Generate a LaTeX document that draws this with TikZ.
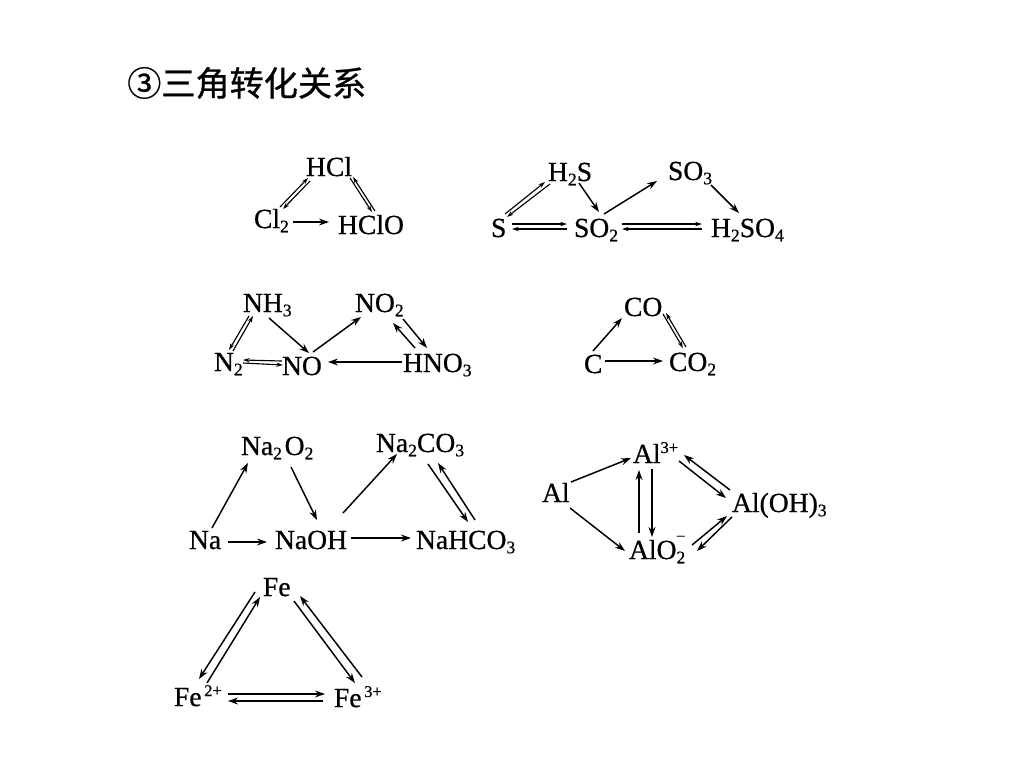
\documentclass[tikz,border=0pt]{standalone}
\usepackage{fontspec}
\usetikzlibrary{arrows.meta}
\setmainfont{Liberation Serif}
\newfontfamily\chemfont{Liberation Serif}[RawFeature={embolden=0.7}]
\newfontfamily\cjk{Noto Sans CJK SC}[RawFeature={embolden=0.8}]
\newcommand{\lowr}[1]{\raisebox{-3.2pt}{\fontsize{13.2}{14}\selectfont #1}}
\newcommand{\upr}[1]{\raisebox{7.5pt}{\fontsize{12.3}{13}\selectfont #1}}
% place a species: name, left x, baseline y, text
\newcommand{\chem}[4]{%
  \expandafter\def\csname nx@#1\endcsname{#2}%
  \expandafter\def\csname ny@#1\endcsname{#3}%
  \node[species] (#1) at (#2,#3) {#4};}
% connector between two named species, ends given as picture positions
\newcommand{\conn}[7][main]{%
  \pgfmathsetmacro{\dxa}{#3-\csname nx@#2\endcsname}%
  \pgfmathsetmacro{\dya}{#4-\csname ny@#2\endcsname}%
  \pgfmathsetmacro{\dxb}{#6-\csname nx@#5\endcsname}%
  \pgfmathsetmacro{\dyb}{#7-\csname ny@#5\endcsname}%
  \draw[#1] ([shift={(\dxa,\dya)}]#2.base west) -- ([shift={(\dxb,\dyb)}]#5.base west);}
\tikzset{
  species/.style={anchor=base west,inner sep=0pt,outer sep=0pt,font=\chemfont\fontsize{20.7}{21}\selectfont,text=black},
  main/.style={draw=black,line width=1.1pt,-{Stealth[length=7.5pt,width=5.2pt]}},
  thin/.style={draw=black,line width=0.85pt,-{Stealth[length=5pt,width=3.2pt]}},
}
\begin{document}
\begin{tikzpicture}[x=0.75pt,y=-0.75pt]
\useasboundingbox (0,0) rectangle (1024,768);
\fill[white] (0,0) rectangle (1024,768);
\node[anchor=west,inner sep=0pt,font=\cjk\fontsize{25.6}{26}\selectfont] (title) at (127,83) {③三角转化关系};
% chlorine
\chem{HCl}{306}{176}{HCl}
\chem{ClTwo}{254}{228}{Cl\lowr{2}}
\chem{HClO}{338}{234}{HClO}
\conn[thin]{ClTwo}{280}{207}{HCl}{308}{178}
\conn[thin]{HCl}{310}{181}{ClTwo}{283}{209}
\conn[thin]{HClO}{375}{211}{HCl}{353}{177}
\conn[thin]{HCl}{350}{178}{HClO}{372}{212}
\conn{ClTwo}{293}{222}{HClO}{329}{222}
% sulfur
\chem{HHS}{548}{181}{H\lowr{2}S}
\chem{S}{491}{237}{S}
\chem{SOTwo}{574}{237}{SO\lowr{2}}
\chem{SOThree}{668}{180}{SO\lowr{3}}
\chem{HHSOFour}{711}{237}{H\lowr{2}SO\lowr{4}}
\conn[thin]{S}{505}{214}{HHS}{545}{182}
\conn[thin]{HHS}{550}{184}{S}{507}{217}
\conn[thin]{S}{512}{224}{SOTwo}{567}{224}
\conn[thin]{SOTwo}{567}{229}{S}{512}{229}
\conn{HHS}{579}{183}{SOTwo}{599}{212}
\conn{SOTwo}{604}{214}{SOThree}{657}{181}
\conn{SOThree}{711}{185}{HHSOFour}{739}{213}
\conn[thin]{SOTwo}{622}{224}{HHSOFour}{702}{224}
\conn[thin]{HHSOFour}{702}{229}{SOTwo}{622}{229}
% nitrogen
\chem{NHThree}{243}{312}{NH\lowr{3}}
\chem{NOTwo}{355}{312}{NO\lowr{2}}
\chem{NTwo}{214}{371}{N\lowr{2}}
\chem{NO}{282}{375}{NO}
\chem{HNOThree}{403}{372}{HNO\lowr{3}}
\conn[thin]{NHThree}{249}{316}{NTwo}{229}{350}
\conn[thin]{NTwo}{233}{351}{NHThree}{253}{316}
\conn[thin]{NO}{282}{361}{NTwo}{243}{360}
\conn[thin]{NTwo}{243}{363}{NO}{283}{365}
\conn{NHThree}{269}{318}{NO}{309}{353}
\conn{NO}{313}{352}{NOTwo}{361}{317}
\conn{NOTwo}{403}{319}{HNOThree}{427}{348}
\conn{HNOThree}{415}{348}{NOTwo}{393}{323}
\conn{HNOThree}{402}{362}{NO}{328}{362}
% carbon
\chem{CO}{624}{316}{CO}
\chem{C}{584}{373}{C}
\chem{COTwo}{669}{371}{CO\lowr{2}}
\conn{C}{593}{351}{CO}{622}{318}
\conn{C}{605}{361}{COTwo}{663}{361}
\conn[thin]{COTwo}{686}{347}{CO}{666}{313}
\conn[thin]{CO}{663}{314}{COTwo}{683}{348}
% sodium
\chem{NaTwoOTwo}{241}{455}{Na\lowr{2}\hspace{2pt}O\lowr{2}}
\chem{NaTwoCOThree}{376}{452}{Na\lowr{2}CO\lowr{3}}
\chem{Na}{189}{549}{Na}
\chem{NaOH}{275}{549}{NaOH}
\chem{NaHCOThree}{416}{549}{NaHCO\lowr{3}}
\conn{Na}{212}{528}{NaTwoOTwo}{248}{463}
\conn{NaTwoOTwo}{291}{467}{NaOH}{317}{520}
\conn{Na}{228}{542}{NaOH}{267}{542}
\conn{NaOH}{343}{513}{NaTwoCOThree}{397}{454}
\conn{NaTwoCOThree}{428}{464}{NaHCOThree}{468}{522}
\conn{NaHCOThree}{475}{520}{NaTwoCOThree}{438}{463}
\conn{NaOH}{351}{538}{NaHCOThree}{411}{538}
% aluminium
\chem{Al}{542}{502}{Al}
\chem{AlIon}{633}{463}{Al\upr{3+}}
\chem{AlOH}{732}{512}{Al(OH)\lowr{3}}
\chem{AlOTwo}{629}{559}{AlO\lowr{2}\llap{\raisebox{13pt}{\fontsize{12.3}{13}\selectfont −}}}
\conn{Al}{571}{482}{AlIon}{631}{458}
\conn{Al}{570}{508}{AlOTwo}{625}{551}
\conn{AlOTwo}{639}{533}{AlIon}{639}{470}
\conn{AlIon}{652}{469}{AlOTwo}{652}{537}
\conn{AlIon}{679}{461}{AlOH}{726}{498}
\conn{AlOH}{730}{490}{AlIon}{684}{455}
\conn{AlOTwo}{692}{545}{AlOH}{727}{516}
\conn{AlOH}{732}{517}{AlOTwo}{697}{551}
% iron
\chem{Fe}{263}{596}{Fe}
\chem{FeTwo}{174}{706}{Fe\hspace{2pt}\upr{2+}}
\chem{FeThree}{334}{707}{Fe\hspace{2pt}\upr{3+}}
\conn{Fe}{255}{592}{FeTwo}{199}{679}
\conn{FeTwo}{207}{683}{Fe}{260}{597}
\conn{Fe}{294}{601}{FeThree}{355}{683}
\conn{FeThree}{362}{677}{Fe}{300}{596}
\conn{FeTwo}{228}{694}{FeThree}{325}{694}
\conn{FeThree}{323}{701}{FeTwo}{228}{701}
\end{tikzpicture}
\end{document}
